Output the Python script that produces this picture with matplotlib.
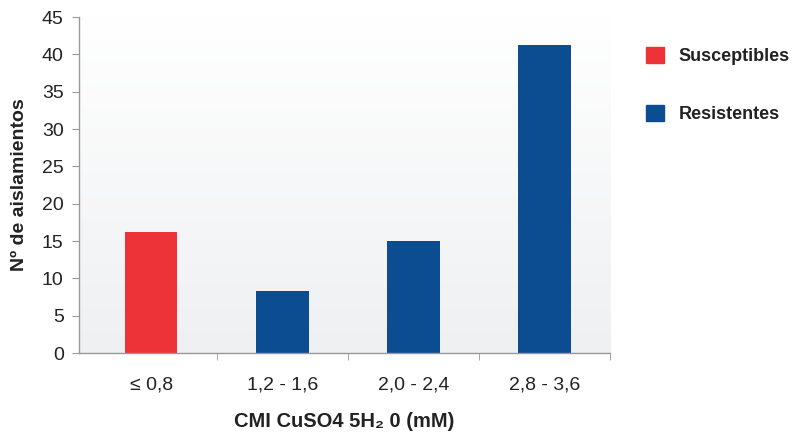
import numpy as np
import matplotlib
matplotlib.use("Agg")
import matplotlib.pyplot as plt
from matplotlib.patches import Patch


categories = ["≤ 0,8", "1,2 - 1,6", "2,0 - 2,4", "2,8 - 3,6"]
counts = [16.2, 8.3, 15.0, 41.2]
groups = ["Susceptibles", "Resistentes", "Resistentes", "Resistentes"]
group_colors = {"Susceptibles": "#ee3338", "Resistentes": "#0c4d92"}
y_ticks = list(range(0, 50, 5))


def plot_data() -> None:
    plt.rcParams["font.family"] = ["Liberation Sans", "DejaVu Sans"]
    fig = plt.figure(figsize=(7.93, 4.36), dpi=100)
    ax = fig.add_axes([0.0996, 0.190, 0.670, 0.771])

    # soft vertical gradient behind the bars (white on top, light grey below)
    grad = np.linspace(0.0, 1.0, 256).reshape(-1, 1)
    ax.imshow(grad, extent=[0, 1, 0, 1], transform=ax.transAxes, aspect="auto",
              cmap=matplotlib.colors.LinearSegmentedColormap.from_list(
                  "bg", ["#ffffff", "#eff0f2"]), zorder=0)

    x = np.arange(len(categories))
    colors = [group_colors[g] for g in groups]
    ax.bar(x, counts, width=0.4, color=colors, zorder=2)

    ax.set_xlim(-0.55, len(categories) - 0.5)
    ax.set_ylim(0, 45)
    ax.set_yticks(y_ticks)
    ax.set_xticks(x)
    ax.set_xticklabels(categories)
    ax.set_xticks(np.arange(0.5, len(categories) + 0.5), minor=True)
    ax.tick_params(axis="x", which="major", length=0, pad=17, labelsize=14,
                   colors="#222222")
    ax.tick_params(axis="x", which="minor", length=5, color="#999999",
                   direction="out")
    ax.tick_params(axis="y", length=5, color="#999999", labelsize=14,
                   labelcolor="#222222", pad=6)

    for side in ["top", "right"]:
        ax.spines[side].set_visible(False)
    for side in ["left", "bottom"]:
        ax.spines[side].set_color("#999999")
        ax.spines[side].set_linewidth(1.0)

    ax.set_ylabel("Nº de aislamientos", fontsize=14, fontweight="bold",
                  color="#222222", labelpad=10)
    ax.set_xlabel("CMI CuSO4 5H₂ 0 (mM)", fontsize=14.5, fontweight="bold",
                  color="#222222", labelpad=13)

    handles = [Patch(color=group_colors[k]) for k in group_colors]
    fig.legend(handles, list(group_colors), loc="upper left",
               bbox_to_anchor=(0.794, 0.930), frameon=False,
               prop={"size": 13, "weight": "bold"}, labelspacing=2.2,
               handlelength=1.0, handleheight=1.0, handletextpad=0.8,
               labelcolor="#222222")

    fig.savefig("out.png", dpi=100)


def main() -> None:
    plot_data()


if __name__ == "__main__":
    main()
